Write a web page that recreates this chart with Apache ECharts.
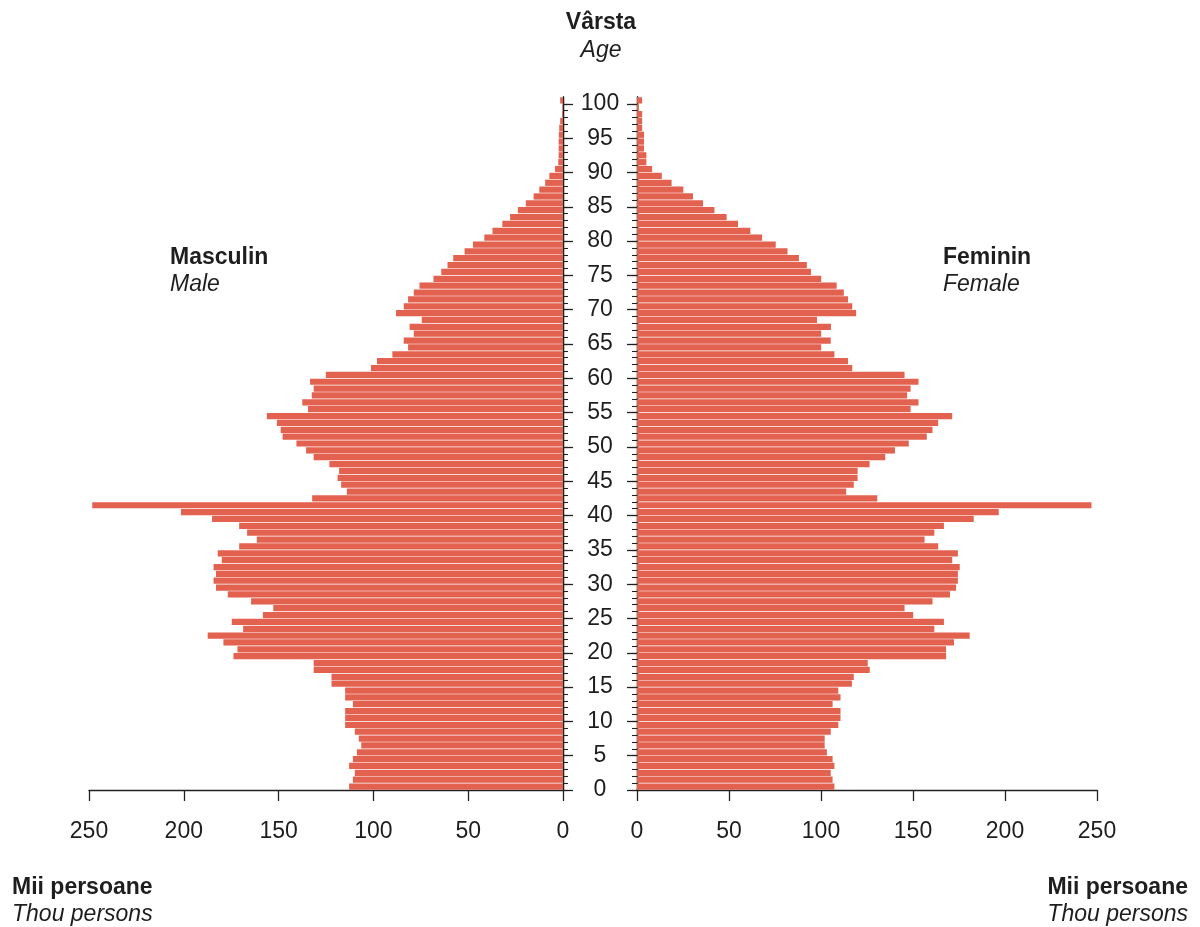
<!DOCTYPE html>
<html><head><meta charset="utf-8">
<script src="https://cdn.jsdelivr.net/npm/echarts@6/dist/echarts.min.js"></script>
<style>html,body{margin:0;padding:0;background:#fff}#c{width:1200px;height:927px}</style>
</head><body><div id="c"></div>
<script>
// Age categories (one bar per single year of age, 0..100)
const ages = Array.from({length: 101}, (_, i) => String(i));
// Tick positions on the age axis (year boundaries 0..101)
const ageTicks = Array.from({length: 102}, (_, i) => String(i));
const ageLabelStep = 5;
// Thousand persons, by age 0..100
const male = [
 112.8,110.8,109.8,112.8,110.8,108.7,106.4,107.7,109.8,114.9,
 114.9,114.9,110.8,114.9,114.9,122.1,122.1,131.5,131.5,173.8,
 171.7,179.1,187.4,168.7,174.7,158.3,152.8,164.5,176.8,183.0,
 184.3,183.0,184.3,180.0,182.1,170.8,161.5,166.6,170.8,185.1,
 201.5,248.3,132.3,114.0,117.0,118.9,118.1,123.2,131.5,135.5,
 140.6,147.9,148.9,150.9,156.2,134.5,137.5,132.5,131.5,133.4,
 125.1,101.3,98.1,90.0,81.7,84.0,78.7,80.9,74.5,88.1,
 84.0,81.7,78.7,75.7,68.3,64.2,60.9,57.9,51.9,47.5,
 41.5,37.2,32.0,27.9,23.8,19.6,15.5,12.5,9.4,7.2,
 4.2,2.5,2.3,2.3,2.3,2.2,2.0,1.5,0.5,0.3,
 1.5
];
const female = [
 107.3,106.3,105.3,107.3,106.3,103.2,102.0,102.0,105.3,109.4,
 110.6,110.6,106.3,110.6,109.4,116.8,117.8,126.5,125.4,168.0,
 168.0,172.3,180.8,161.6,166.8,150.1,145.4,160.6,170.1,173.4,
 174.4,174.4,175.4,171.3,174.4,163.7,156.3,161.6,166.8,183.0,
 196.6,247.0,130.6,113.7,117.8,119.9,119.9,126.4,134.9,140.2,
 147.7,157.5,160.6,163.7,171.3,148.7,153.0,146.8,148.7,153.0,
 145.4,117.0,114.7,107.3,100.1,105.3,100.1,105.4,97.8,119.1,
 117.0,114.7,112.4,108.5,100.1,94.6,92.3,88.0,81.8,75.4,
 68.0,61.6,54.9,48.7,42.1,35.9,30.4,25.2,18.8,13.5,
 8.2,5.1,5.1,3.8,3.8,3.8,2.8,2.8,2.8,1.0,
 2.8
];
const xMin = 0, xMax = 250, xStep = 50;

const FONT = 'Liberation Sans';
const TXT = '#1e1e1e';
const BAR = '#E2614F';
const AX = '#222';

const chart = echarts.init(document.getElementById('c'), null, {renderer: 'canvas'});

function xAxisCfg(grid, inverse) {
  return {
    gridIndex: grid, type: 'value', inverse: inverse, min: xMin, max: xMax, interval: xStep,
    position: 'bottom',
    axisLine: {show: true, lineStyle: {color: AX, width: 1.3}},
    axisTick: {show: true, length: 11, lineStyle: {color: AX, width: 1.3}},
    axisLabel: {show: true, margin: 30, fontSize: 23, color: TXT, fontFamily: FONT},
    splitLine: {show: false}
  };
}
function barAxis(grid, pos) {
  return {gridIndex: grid, type: 'category', data: ages, boundaryGap: true, position: pos,
    axisLine: {show: false}, axisTick: {show: false}, axisLabel: {show: false}, splitLine: {show: false}};
}
function minorAxis(grid, pos) {
  return {gridIndex: grid, type: 'category', data: ageTicks, boundaryGap: false, position: pos,
    axisLine: {show: true, lineStyle: {color: AX, width: 1.3}},
    axisTick: {show: true, length: 5, interval: (i) => i <= 100, lineStyle: {color: AX, width: 1.1}},
    axisLabel: {show: false}, splitLine: {show: false}};
}
function majorAxis(grid, pos, labels) {
  return {gridIndex: grid, type: 'category', data: ageTicks, boundaryGap: false, position: pos,
    axisLine: {show: true, lineStyle: {color: AX, width: 1.3}},
    axisTick: {show: true, length: 10, interval: (i) => i % ageLabelStep === 0 && i <= 100, lineStyle: {color: AX, width: 1.3}},
    axisLabel: {show: labels, interval: (i) => i % ageLabelStep === 0 && i <= 100, align: 'center', margin: 37,
      fontSize: 23, color: TXT, fontFamily: FONT, padding: [4, 0, 0, 0]},
    splitLine: {show: false}};
}

const option = {
  animation: false,
  backgroundColor: '#fff',
  textStyle: {fontFamily: FONT},
  grid: [
    {left: 89, top: 97, width: 474, height: 693, containLabel: false},
    {left: 637, top: 97, width: 460, height: 693, containLabel: false}
  ],
  xAxis: [xAxisCfg(0, true), xAxisCfg(1, false)],
  yAxis: [
    barAxis(0, 'right'), minorAxis(0, 'right'), majorAxis(0, 'right', true),
    barAxis(1, 'left'), minorAxis(1, 'left'), majorAxis(1, 'left', false)
  ],
  series: [
    {name: 'Masculin', type: 'bar', xAxisIndex: 0, yAxisIndex: 0, data: male,
     barCategoryGap: '9%', itemStyle: {color: BAR}},
    {name: 'Feminin', type: 'bar', xAxisIndex: 1, yAxisIndex: 3, data: female,
     barCategoryGap: '9%', itemStyle: {color: BAR}}
  ],
  graphic: [
    {type: 'text', x: 601, y: 11, style: {text: 'Vârsta', font: 'bold 23px "Liberation Sans"', fill: TXT, textAlign: 'center'}},
    {type: 'text', x: 601, y: 39, style: {text: 'Age', font: 'italic 23px "Liberation Sans"', fill: TXT, textAlign: 'center'}},
    {type: 'text', x: 170, y: 246, style: {text: 'Masculin', font: 'bold 23px "Liberation Sans"', fill: TXT}},
    {type: 'text', x: 170, y: 273, style: {text: 'Male', font: 'italic 23px "Liberation Sans"', fill: TXT}},
    {type: 'text', x: 943, y: 246, style: {text: 'Feminin', font: 'bold 23px "Liberation Sans"', fill: TXT}},
    {type: 'text', x: 943, y: 273, style: {text: 'Female', font: 'italic 23px "Liberation Sans"', fill: TXT}},
    {type: 'text', x: 12, y: 876, style: {text: 'Mii persoane', font: 'bold 23px "Liberation Sans"', fill: TXT}},
    {type: 'text', x: 12, y: 903, style: {text: 'Thou persons', font: 'italic 23px "Liberation Sans"', fill: TXT}},
    {type: 'text', x: 1188, y: 876, style: {text: 'Mii persoane', font: 'bold 23px "Liberation Sans"', fill: TXT, textAlign: 'right'}},
    {type: 'text', x: 1188, y: 903, style: {text: 'Thou persons', font: 'italic 23px "Liberation Sans"', fill: TXT, textAlign: 'right'}}
  ]
};
chart.setOption(option);
</script>
</body></html>
